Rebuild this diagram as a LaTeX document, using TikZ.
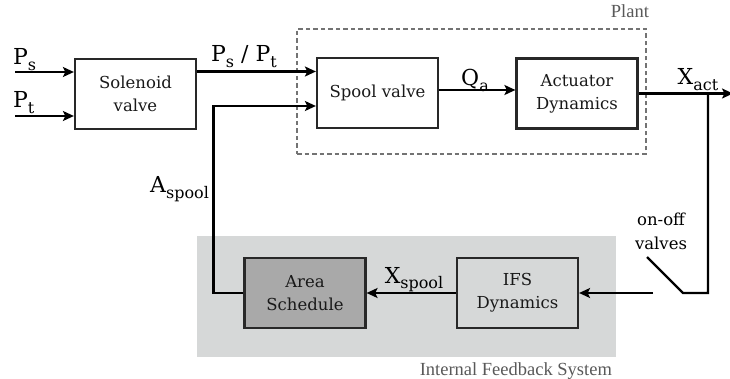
\documentclass[tikz,border=0pt]{standalone}
\usepackage{fontspec}
\setmainfont{DejaVu Serif}
\newfontfamily\capfont{Liberation Serif}
\usetikzlibrary{arrows.meta}
\newcommand{\lsub}[1]{\raisebox{-0.24em}{\fontsize{16}{16}\selectfont #1}}
\definecolor{fbgray}{RGB}{214,216,216}
\definecolor{areagray}{RGB}{169,169,169}
\definecolor{boxline}{RGB}{40,40,40}

\begin{document}
\begin{tikzpicture}[x=1pt, y=-1pt, line width=2.2pt,
  blk/.style={draw=boxline, align=center, minimum width=121pt, minimum height=70pt, inner sep=0pt, text=black!90, font=\fontsize{16.5}{23}\selectfont},
  lbl/.style={font=\fontsize{22}{22}\selectfont, inner sep=0pt},
  caplbl/.style={font=\capfont\fontsize{18.5}{20}\selectfont, text=black!65, inner sep=0pt},
  arr/.style={-{Stealth[length=11pt,width=10pt,inset=2.5pt]}}]

\useasboundingbox (0,0) rectangle (730,379);

\node[fill=fbgray, minimum width=419pt, minimum height=121pt, inner sep=0pt] (fbsys) at (406.5,296.5) {};
\node[draw=black!55, line width=2pt, dash pattern=on 4.5pt off 3pt, minimum width=349pt, minimum height=125pt, inner sep=0pt] (plant) at (471.5,91.5) {};

\node[blk] (sol) at (135.5,94) {Solenoid\\valve};
\node[blk] (spool) at (377.5,93) {Spool valve};
\node[blk] (act) at (577,93.5) {Actuator\\Dynamics};
\node[blk, fill=areagray] (area) at (305,293) {Area\\Schedule};
\node[blk] (ifs) at (517.5,293) {IFS\\Dynamics};

\coordinate (psin) at (15,72);
\coordinate (ptin) at (15,116);
\coordinate (spin1) at ([yshift=21.5pt]spool.west);
\coordinate (spin2) at ([yshift=-13pt]spool.west);
\coordinate (qa) at ([yshift=3pt]spool.east);
\coordinate (br) at (708,93.5);
\coordinate (xout) at (733,93.5);
\coordinate (swa) at (683,293);
\coordinate (swb) at (647,257);
\coordinate (swc) at (653,293);

\draw[arr] (psin) -- (psin -| sol.west);
\draw[arr] (ptin) -- (ptin -| sol.west);
\draw[arr] (sol.east |- spin1) -- (spin1);
\draw[arr] (qa) -- (qa -| act.west);
\draw[arr] (act.east) -- (xout);
\draw (br) |- (swa) -- (swb);
\draw[arr] (swc) -- (ifs.east);
\draw[arr] (ifs.west) -- (area.east);
\draw[arr] (area.west) -- ++(-30,0) |- (spin2);

\node[lbl, anchor=base west] (pslbl) at (12,65) {P\lsub{s}};
\node[lbl, anchor=base west] (ptlbl) at (12,108) {P\lsub{t}};
\node[lbl, anchor=base] (psptlbl) at (244,62) {P\lsub{s} / P\lsub{t}};
\node[lbl, anchor=base] (qalbl) at (475,86) {Q\lsub{a}};
\node[lbl, anchor=base] (xactlbl) at (698,85) {X\lsub{act}};
\node[lbl, anchor=base] (xsplbl) at (414,283) {X\lsub{spool}};
\node[lbl, anchor=base east] (asplbl) at (210,193) {A\lsub{spool}};
\node[align=center, inner sep=0pt, font=\fontsize{16.5}{24}\selectfont] (onoff) at (661,231) {on-off\\valves};
\node[caplbl, anchor=base east] (plantlbl) at (650,18) {Plant};
\node[caplbl, anchor=base east] (fblbl) at (613,375) {Internal Feedback System};
\end{tikzpicture}
\end{document}
